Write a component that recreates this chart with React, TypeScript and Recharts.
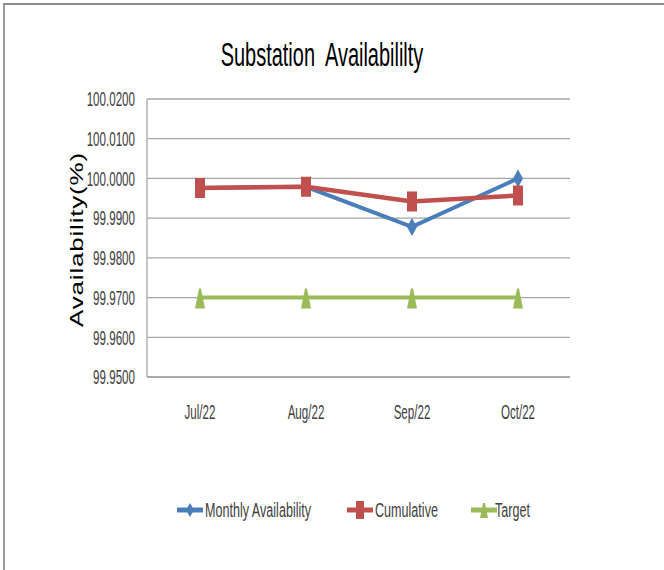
import React from 'react';
import { LineChart, Line, XAxis, YAxis, CartesianGrid, Legend } from 'recharts';

const categories = ['Jul/22', 'Aug/22', 'Sep/22', 'Oct/22'];
const monthly = [99.9976, 99.9979, 99.9878, 100.0];
const cumulative = [99.9976, 99.9979, 99.9942, 99.9957];
const target = [99.97, 99.97, 99.97, 99.97];
const yTicks = [99.95, 99.96, 99.97, 99.98, 99.99, 100.0, 100.01, 100.02];
const seriesNames = ['Monthly Availability', 'Cumulative', 'Target'];
const titleText = 'Substation  Availabililty';
const yLabel = 'Availability(%)';

const BLUE = '#4A7EBB';
const RED = '#C0504D';
const GREEN = '#9BBB59';
const FONT = '"Liberation Sans", Arial, sans-serif';
const TEXT = '#404040';

const data = categories.map((c, i) => ({
  name: c,
  monthly: monthly[i],
  cumulative: cumulative[i],
  target: target[i],
}));

const YTick = (props: any) => {
  const { x, y, payload } = props;
  return (
    <text
      transform={`translate(${x},${y}) scale(0.58,1)`}
      textAnchor="end"
      dominantBaseline="central"
      fontSize={20}
      fontFamily={FONT}
      fill={TEXT}
    >
      {Number(payload.value).toFixed(4)}
    </text>
  );
};

const XTick = (props: any) => {
  const { x, y, payload } = props;
  return (
    <text
      transform={`translate(${x},${y}) scale(0.58,1)`}
      textAnchor="middle"
      dominantBaseline="central"
      fontSize={20}
      fontFamily={FONT}
      fill={TEXT}
    >
      {payload.value}
    </text>
  );
};

const Diamond = (props: any) => {
  const { cx, cy } = props;
  if (cx == null || cy == null) return null;
  return (
    <polygon
      points={`${cx},${cy - 9} ${cx + 5},${cy} ${cx},${cy + 9} ${cx - 5},${cy}`}
      fill={BLUE}
      stroke="none"
    />
  );
};

const Square = (props: any) => {
  const { cx, cy } = props;
  if (cx == null || cy == null) return null;
  return <rect x={cx - 5} y={cy - 10} width={10} height={20} fill={RED} stroke="none" />;
};

const Triangle = (props: any) => {
  const { cx, cy } = props;
  if (cx == null || cy == null) return null;
  return (
    <polygon
      points={`${cx - 1},${cy - 9} ${cx + 1},${cy - 9} ${cx + 5},${cy + 11} ${cx - 5},${cy + 11}`}
      fill={GREEN}
      stroke="none"
    />
  );
};

const LegendContent = () => {
  const items = [
    { name: seriesNames[0], color: BLUE, ix: 177, tx: 205, kind: 'diamond' },
    { name: seriesNames[1], color: RED, ix: 347, tx: 375, kind: 'square' },
    { name: seriesNames[2], color: GREEN, ix: 471, tx: 495, kind: 'triangle' },
  ];
  const cy = 12;
  return (
    <svg width={664} height={24} style={{ display: 'block' }}>
      {items.map((it) => {
        const mx = it.ix + 13;
        let marker;
        if (it.kind === 'diamond') {
          marker = (
            <polygon
              points={`${mx},${cy - 7} ${mx + 4},${cy} ${mx},${cy + 7} ${mx - 4},${cy}`}
              fill={it.color}
            />
          );
        } else if (it.kind === 'square') {
          marker = <rect x={mx - 4} y={cy - 9} width={8} height={18} fill={it.color} />;
        } else {
          marker = (
            <polygon
              points={`${mx - 1},${cy - 7} ${mx + 1},${cy - 7} ${mx + 4},${cy + 8} ${mx - 4},${cy + 8}`}
              fill={it.color}
            />
          );
        }
        return (
          <g key={it.name}>
            <line x1={it.ix} x2={it.ix + 26} y1={cy} y2={cy} stroke={it.color} strokeWidth={5} />
            {marker}
            <text
              transform={`translate(${it.tx},${cy}) scale(0.6,1)`}
              dominantBaseline="central"
              fontSize={21}
              fontFamily={FONT}
              fill={TEXT}
            >
              {it.name}
            </text>
          </g>
        );
      })}
    </svg>
  );
};

export default function App() {
  return (
    <div
      style={{
        position: 'absolute',
        left: 0,
        top: 0,
        width: 664,
        height: 570,
        overflow: 'hidden',
        background: '#ffffff',
      }}
    >
      <div
        style={{
          position: 'absolute',
          left: 3,
          top: 3,
          width: 700,
          height: 600,
          borderTop: '2px solid #8c8c8c',
          borderLeft: '2px solid #9a9a9a',
          boxSizing: 'border-box',
        }}
      />
      <div style={{ position: 'absolute', left: 0, top: 0 }}>
        <LineChart
          width={664}
          height={570}
          data={data}
          margin={{ top: 99, right: 94, left: 0, bottom: 153 }}
        >
          <CartesianGrid
            horizontal={true}
            vertical={false}
            stroke="#a6a6a6"
            strokeWidth={1.3}
          />
          <XAxis
            dataKey="name"
            type="category"
            height={40}
            padding={{ left: 53, right: 52 }}
            axisLine={{ stroke: '#a6a6a6', strokeWidth: 1.3 }}
            tickLine={false}
            tickSize={0}
            tickMargin={35}
            tick={<XTick />}
            interval={0}
          />
          <YAxis
            width={147}
            domain={[99.95, 100.02]}
            ticks={yTicks}
            type="number"
            allowDataOverflow={true}
            axisLine={{ stroke: '#a6a6a6', strokeWidth: 1.3 }}
            tickLine={false}
            tickSize={0}
            tickMargin={12}
            tick={<YTick />}
            interval={0}
          />
          <Legend
            verticalAlign="middle"
            align="center"
            wrapperStyle={{ top: 498, left: 0, width: 664, height: 24 }}
            content={<LegendContent />}
          />
          <Line
            type="linear"
            dataKey="monthly"
            name={seriesNames[0]}
            stroke={BLUE}
            strokeWidth={4}
            dot={<Diamond />}
            activeDot={false}
            isAnimationActive={false}
          />
          <Line
            type="linear"
            dataKey="cumulative"
            name={seriesNames[1]}
            stroke={RED}
            strokeWidth={4.5}
            dot={<Square />}
            activeDot={false}
            isAnimationActive={false}
          />
          <Line
            type="linear"
            dataKey="target"
            name={seriesNames[2]}
            stroke={GREEN}
            strokeWidth={4}
            dot={<Triangle />}
            activeDot={false}
            isAnimationActive={false}
          />
        </LineChart>
      </div>
      <svg
        width={664}
        height={570}
        style={{ position: 'absolute', left: 0, top: 0, pointerEvents: 'none' }}
      >
        <text
          transform="translate(322,66) scale(0.605,1)"
          textAnchor="middle"
          fontSize={33}
          fontFamily={FONT}
          fill="#000000"
          style={{ whiteSpace: 'pre' }}
          xmlSpace="preserve"
        >
          {titleText}
        </text>
        <text
          transform="translate(77,239.5) rotate(-90) scale(1,0.7)"
          textAnchor="middle"
          dominantBaseline="central"
          fontSize={26}
          letterSpacing={0.8}
          fontFamily={FONT}
          fill="#000000"
        >
          {yLabel}
        </text>
      </svg>
    </div>
  );
}
